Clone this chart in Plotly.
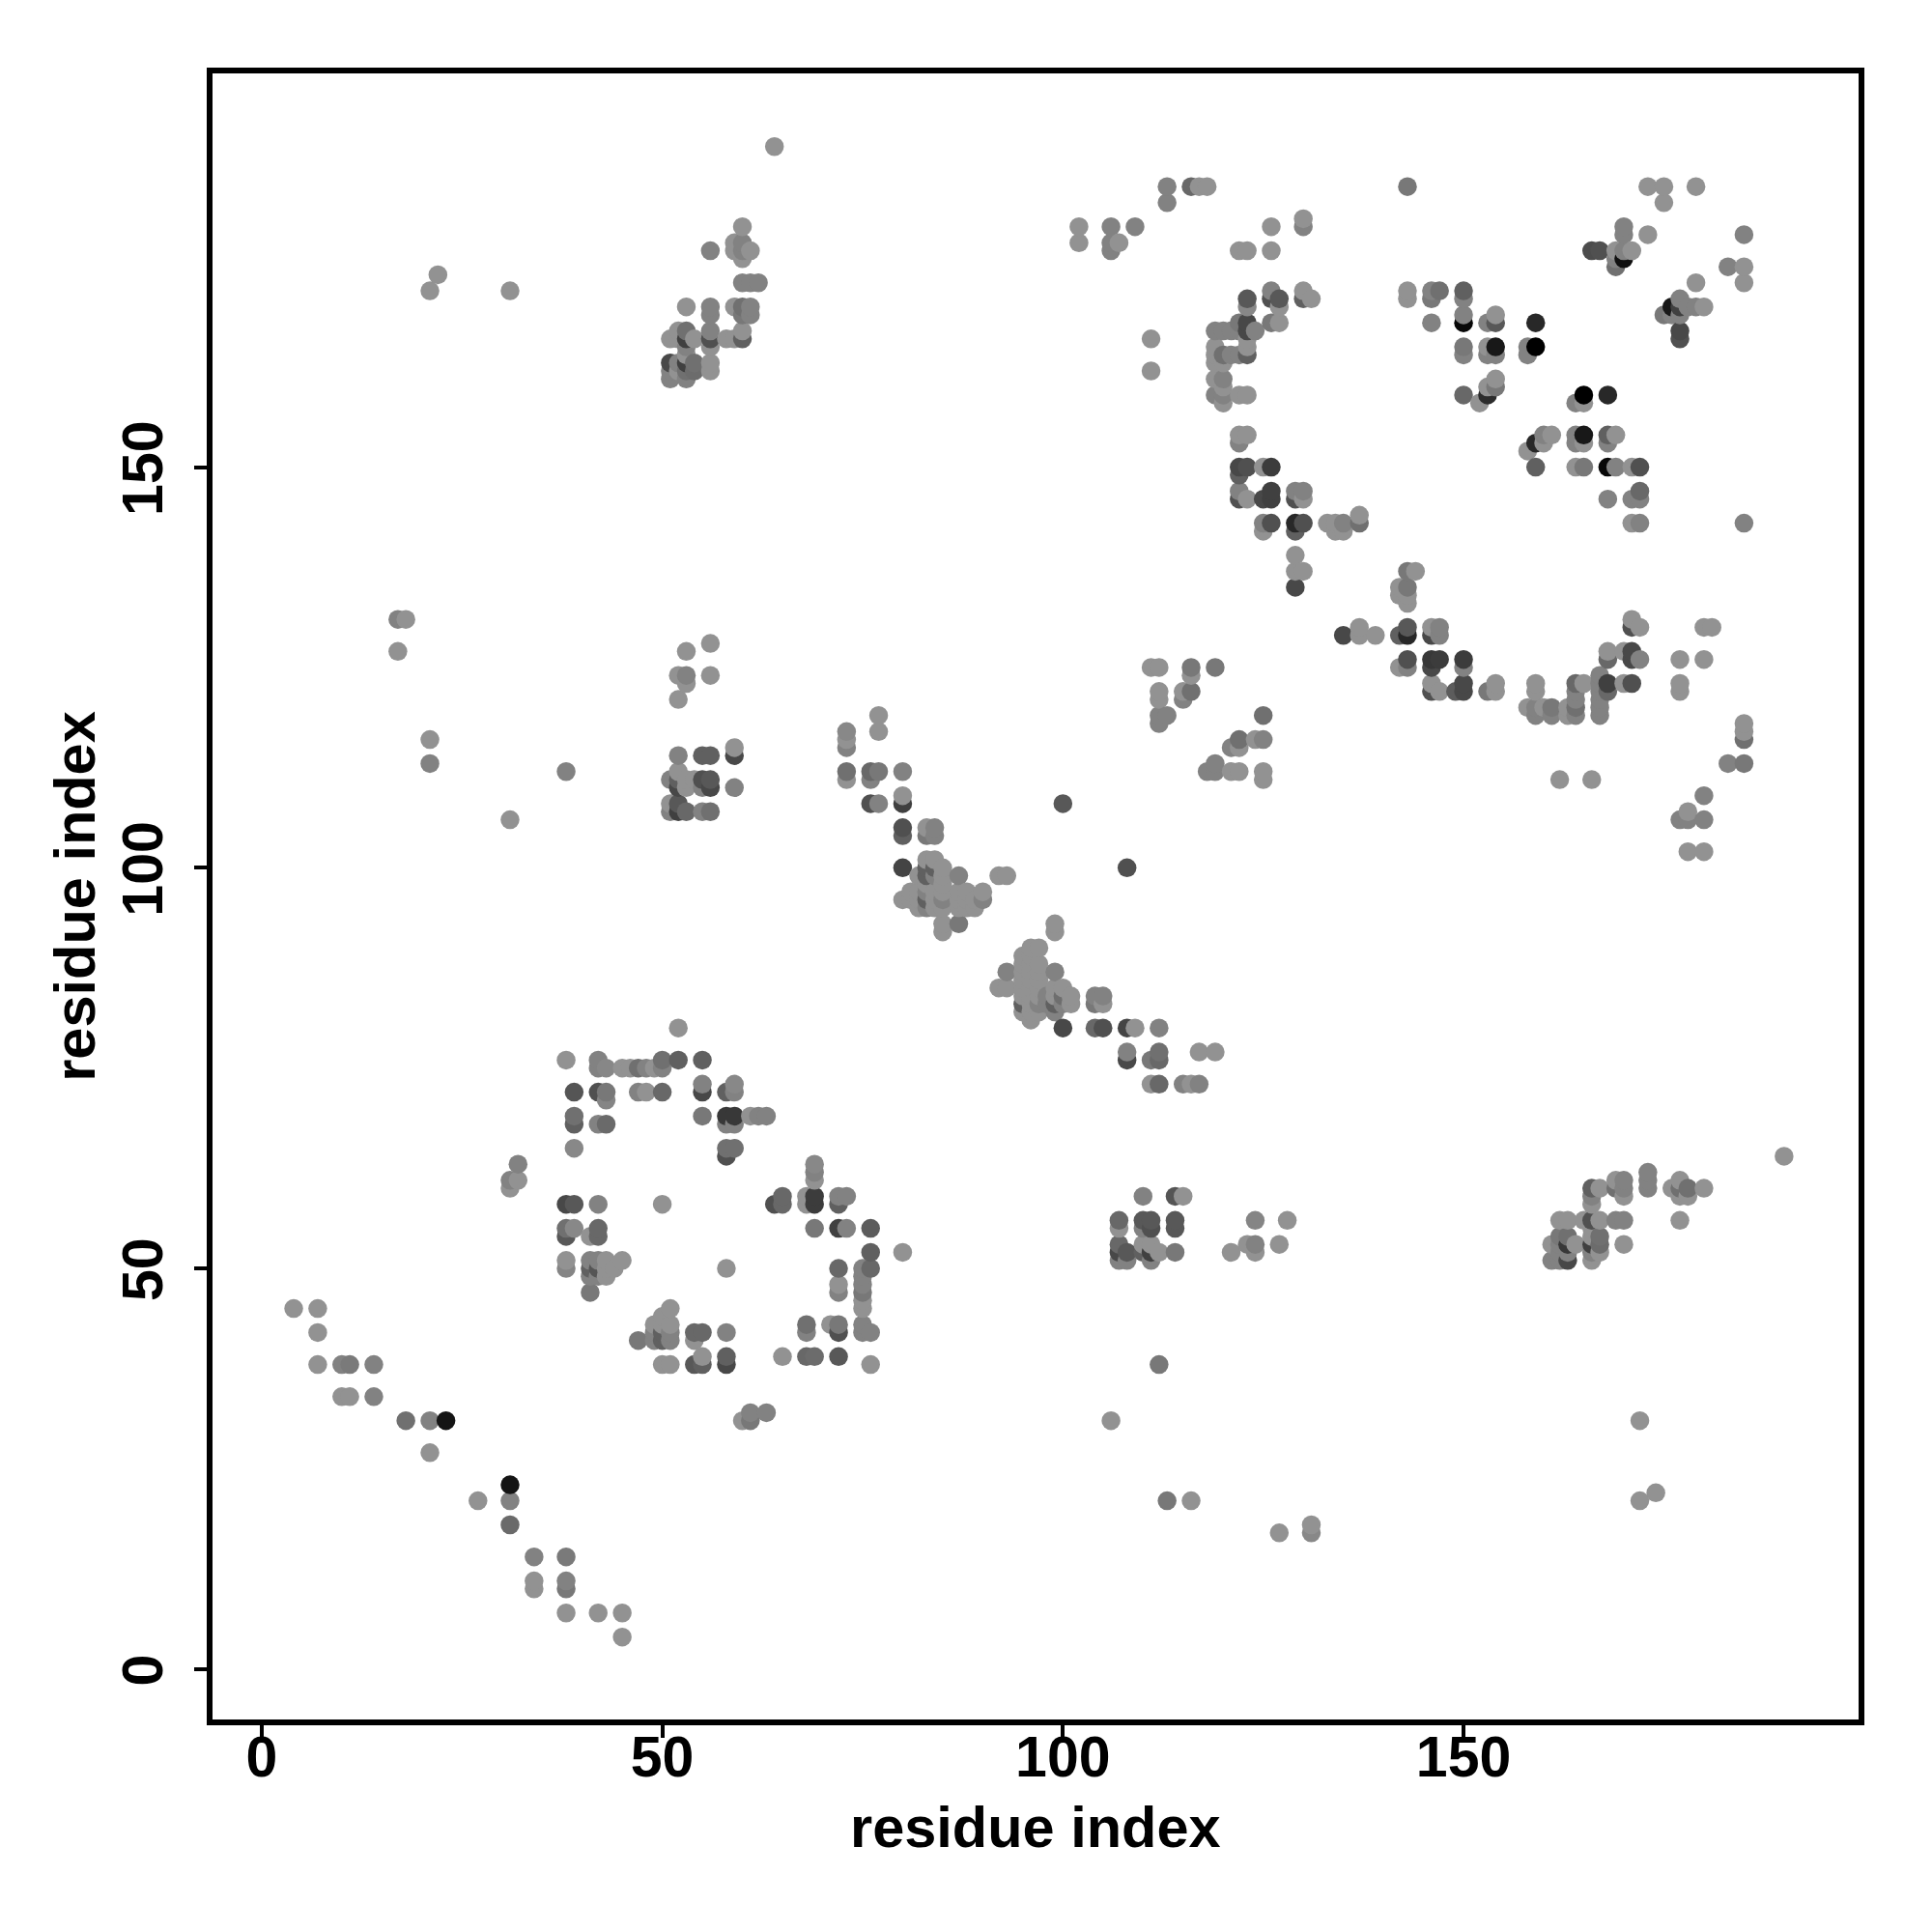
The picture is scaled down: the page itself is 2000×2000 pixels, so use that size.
import plotly.graph_objects as go

L = 146
M = 130

# (residue_i, residue_j, grey score), one list per region
lower_diagonal = [(4,45,L),(7,45,L),(7,42,L),(7,38,L),(10,38,M),(11,38,122),(14,38,M),(10,34,L),(11,34,L),(14,34,M),
 (18,31,112),(21,31,M),(23,31,20),(21,27,L),(31,23,20),(27,21,L),(31,21,M),(31,18,106),(34,14,M),(38,14,122),
 (34,11,L),(34,10,L),(38,11,M),(38,10,120),(38,7,L),(42,7,L),(45,7,L),(45,4,L),(32,63,M),(31,61,M),(32,61,L),(31,60,L)]

ring_low = [(52,80,L),(38,76,L),(42,76,M),(42,75,M),(43,75,135),(45,75,L),(46,75,L),(47,75,112),(48,75,M),(49,75,L),(50,75,M),(50,76,112),(52,76,96),(55,76,96),
 (39,72,85),(42,72,80),(43,72,120),(43,71,133),(47,72,M),(48,72,L),(50,72,104),(55,72,72),(55,73,M),(58,72,96),(59,72,M),(59,73,136),
 (39,69,112),(39,68,96),(42,68,M),(43,68,106),(55,69,120),(58,69,56),(59,69,56),(58,68,M),(59,68,M),(61,69,L),(62,69,M),(63,69,M),
 (39,65,136),(58,65,112),(59,65,112),(58,64,80),(69,63,136),(69,62,M),(69,61,L),(65,59,104),(65,58,104),(64,58,80),(68,59,L),(68,58,L),(69,59,60),(69,58,60),
 (72,59,M),(73,59,M),(72,58,96),(38,58,72),(39,58,88),(42,58,M),(50,58,L),(38,55,112),(39,55,136),(38,54,88),(41,54,L),(42,55,104),(42,54,104),
 (69,55,120),(72,55,64),(73,55,M),(76,55,92),(76,52,96),(80,52,L),(38,51,L),(38,50,133),(41,51,M),(42,51,M),(43,51,L),(45,51,L),(41,50,96),(42,50,85),(43,50,L),(44,50,L),
 (41,49,M),(42,49,M),(43,49,L),(41,47,120),(58,50,L),(72,50,104),(72,48,L),(72,47,M),(75,50,M),(76,50,104),(75,49,M),(75,48,M),(75,47,120),(75,46,L),(75,45,L),
 (51,45,L),(50,44,L),(49,43,L),(50,43,L),(51,43,L),(49,42,M),(50,42,96),(51,42,M),(54,42,104),(55,42,104),(58,42,M),(68,43,112),(68,42,M),(71,43,L),(72,43,120),(72,42,80),
 (75,43,M),(75,42,M),(76,42,M),(47,41,120),(49,41,M),(50,41,96),(51,41,M),(54,41,L),(55,39,L),(58,39,96),(65,39,L),(68,39,104),(69,39,108),(72,39,88),
 (50,38,L),(51,38,L),(54,38,88),(55,38,96),(58,38,72),(76,38,L),(61,32,M),(63,32,M),(60,31,L),(61,31,120)]

central_diagonal = [(100,108,88),(108,100,80),(77,119,L),(77,117,L),(73,117,136),(73,116,L),(73,115,M),(73,112,112),(73,111,L),(76,112,104),(76,111,M),(77,112,120),(80,112,M),
 (76,108,80),(77,108,M),(80,109,L),(80,108,64),(80,105,80),(80,104,96),(83,105,L),(84,105,M),(83,104,120),(84,104,M),(80,100,68),(83,101,L),(84,101,L),(83,100,96),(84,100,96),(85,100,L),
 (82,99,L),(83,99,96),(84,99,M),(85,99,L),(87,99,M),(92,99,L),(93,99,L),(83,98,L),(85,98,L),(81,97,L),(82,97,L),(83,97,M),(84,97,L),(85,97,L),(87,97,L),(88,97,L),(90,97,L),
 (80,96,L),(81,96,L),(82,96,L),(83,96,96),(84,96,L),(85,96,M),(87,96,L),(88,96,L),(89,96,L),(90,96,M),(82,95,L),(83,95,M),(84,95,L),(85,95,L),(87,95,L),(88,95,L),(89,95,L),
 (85,93,L),(87,93,120),(85,92,L),(99,93,L),(99,92,L),(97,90,L),(96,90,L),(95,89,L),(96,89,L),(95,88,L),(96,88,L),(97,88,L),(93,87,M),(95,87,L),(96,87,L),(97,87,L),(99,87,M),
 (95,86,L),(96,86,L),(97,86,L),(92,85,L),(93,85,L),(95,85,L),(96,85,L),(97,85,L),(99,85,L),(100,85,L),(95,84,L),(96,84,L),(97,84,L),(98,84,M),(99,84,L),(100,84,110),(101,84,L),(104,84,M),(105,84,M),
 (95,83,96),(96,83,L),(97,83,M),(98,83,M),(99,83,96),(100,83,M),(101,83,L),(104,83,120),(105,83,L),(95,82,L),(96,82,L),(97,82,L),(99,82,M),(96,81,L),
 (100,80,72),(104,80,104),(105,80,80),(108,80,68),(109,80,L),(112,80,M),(108,77,M),(112,77,112),(117,77,L),(119,77,L),(108,76,72),(111,76,120),(112,76,104),(111,73,L),(112,73,104),(115,73,M),(116,73,L),(117,73,M)]

block_bottom_right = [(110,59,M),(114,59,85),(115,59,L),(107,56,104),(110,56,88),(111,56,88),(114,56,88),(107,55,L),(110,55,M),(111,55,80),(114,55,88),(107,53,104),(110,53,L),(111,53,L),
 (107,52,72),(108,52,88),(110,52,96),(111,52,64),(112,52,L),(114,52,120),(107,51,M),(108,51,M),(111,51,M),(124,56,133),(128,56,L),(121,52,L),(123,53,L),(124,53,M),(124,52,L),(127,53,L),
 (112,38,120),(106,31,L),(172,31,L),(113,21,120),(116,21,L),(172,21,L),(174,22,L),(127,17,L),(131,18,L),(131,17,136),(190,64,L),
 (173,62,M),(173,61,M),(173,60,M),(169,61,L),(170,61,M),(169,60,112),(170,60,M),(170,59,L),(166,60,96),(167,60,L),(166,59,M),(166,58,L),(176,60,L),(177,61,L),(177,60,112),(178,60,112),(177,59,L),(178,59,L),(180,60,L),(177,56,L),
 (162,56,L),(163,56,L),(165,56,L),(166,56,80),(167,56,L),(169,56,M),(170,56,M),(166,55,L),(162,54,120),(163,54,112),(166,54,L),(167,54,112),(161,53,L),(162,53,M),(163,53,56),(164,53,L),(166,53,64),(167,53,108),(170,53,L),
 (162,52,M),(163,52,M),(166,52,M),(167,52,L),(161,51,M),(162,51,M),(163,51,72),(166,51,L)]

ring_high_left = [(123,171,88),(123,170,136),(126,172,M),(126,171,80),(127,171,88),(127,170,L),(130,172,L),(130,171,96),(131,171,L),(122,168,120),(123,168,72),(119,167,M),(120,167,M),(121,167,M),(122,167,M),(123,167,72),(124,167,M),
 (126,168,120),(127,168,L),(123,166,L),(123,165,L),(123,164,96),(119,164,L),(120,164,112),(121,164,M),(122,164,M),(119,165,L),(119,163,L),(120,163,L),(119,161,L),(120,161,M),(120,160,L),(119,159,M),(120,159,M),(122,159,L),(123,159,L),(120,158,L),
 (122,154,L),(123,154,L),(122,153,M),(122,150,72),(123,150,80),(125,150,L),(126,150,60),(122,149,96),(122,147,M),(126,147,64),(129,147,M),(130,147,M),(122,146,80),(123,146,L),(125,146,72),(126,146,64),(129,146,80),(130,146,L),
 (125,143,M),(126,143,80),(129,143,40),(130,143,80),(133,143,L),(134,143,L),(135,143,M),(137,143,112),(125,142,L),(129,142,96),(134,142,L),(135,142,L),(137,144,L),(129,139,L),(129,137,L),(130,137,L),(129,135,72)]

ring_high_low = [(143,137,120),(144,137,L),(142,135,L),(143,135,120),(142,134,L),(143,134,L),(143,133,L),(135,129,72),(137,130,L),(137,129,L),(139,129,L),(142,129,96),(143,130,88),(143,129,40),(146,130,L),(147,130,M),(146,129,72),(147,129,M),
 (143,126,80),(146,126,56),(147,126,60),(150,126,60),(142,125,L),(143,125,M),(146,125,72),(150,125,M),(146,123,L),(150,123,72),(154,123,L),(146,122,80),(147,122,L),(149,122,92),(150,122,72),(153,122,120),(154,122,L),(159,123,L),(159,122,L),
 (158,120,L),(159,120,M),(160,120,L),(161,120,120),(163,120,L),(164,120,112),(167,120,M),(159,119,M),(161,119,M),(163,119,L),(164,119,M),(167,119,M),(164,123,104),(165,123,L),(167,123,M),(168,123,64),(170,123,L),(171,123,80),(167,124,M),
 (164,122,M),(167,122,M),(168,122,104),(164,121,M),(167,121,M),(168,127,L),(170,127,L),(171,127,72),(168,126,104),(171,126,72),(172,126,M),(171,131,L),(171,130,80),(172,130,L),(177,126,L),(180,126,L),(180,130,L),(181,130,L),(177,123,L),(177,122,L),
 (185,118,L),(185,117,L),(185,116,112),(183,113,M),(185,113,120),(180,109,M),(178,107,L),(177,106,M),(178,106,M),(180,106,M),(178,102,L),(180,102,L),(162,111,L),(166,111,L)]

mid_islands = [(111,125,L),(112,125,L),(116,125,120),(116,124,L),(119,125,120),(112,122,L),(112,121,L),(115,122,L),(116,122,112),(115,121,M),(112,119,M),(113,119,M),(112,118,M),(125,119,112),(122,116,112),(124,116,L),(125,116,M),(121,115,M),(122,115,L),
 (119,113,M),(118,112,M),(119,112,M),(121,112,L),(122,112,L),(125,112,L),(125,111,L),
 (56,128,L),(53,127,L),(52,124,L),(53,124,M),(56,124,L),(53,123,L),(52,121,L),(52,114,M),(55,114,96),(56,114,96),(59,115,L),(59,114,72),(51,111,M),(52,112,L),(52,111,96),(52,110,72),(53,111,L),(54,111,L),(55,111,80),(56,111,88),
 (53,110,L),(55,110,M),(56,110,72),(59,110,M),(51,108,L),(51,107,M),(52,108,88),(52,107,64),(53,107,104),(55,107,M),(56,107,112)]

top_band = [(113,185,M),(116,185,104),(117,185,L),(118,185,L),(113,183,M),(102,180,L),(102,178,L),(106,180,M),(109,180,M),(106,178,M),(107,178,L),(106,177,M),(126,180,L),(130,181,L),(130,180,M),(122,177,L),(123,177,L),(126,177,L),(111,166,L),(111,162,L),
 (60,180,L),(59,178,L),(60,178,M),(59,177,L),(60,177,M),(61,177,L),(60,176,L),(56,177,M),(60,173,M),(61,173,M),(62,173,M),(53,170,L),(56,170,M),(56,169,M),(59,170,L),(60,170,112),(61,170,M),(60,169,120),(61,169,M),
 (52,167,L),(53,167,112),(51,166,L),(52,166,L),(53,166,64),(54,166,L),(56,167,M),(56,166,80),(58,166,L),(59,166,L),(60,167,L),(60,166,96),(53,165,M),(56,165,L),(53,164,L),
 (51,163,72),(52,163,M),(53,163,64),(54,163,112),(56,163,L),(51,162,M),(52,162,L),(53,162,112),(54,162,108),(56,162,L),(51,161,M),(53,161,M),
 (64,190,L),(21,172,L),(22,174,L),(31,172,L),(17,131,M),(18,131,L),(17,127,L),(21,116,L),(21,113,M),(38,112,M),(31,106,L)]

top_right = [(143,185,120),(173,185,L),(175,185,L),(179,185,L),(175,183,L),(170,180,M),(173,179,L),(185,179,M),(170,179,M),(166,177,76),(167,177,80),(169,177,L),(170,177,M),(171,177,L),(169,176,M),(170,176,16),(169,175,112),
 (183,175,M),(185,175,L),(185,173,L),(179,173,L),(143,172,L),(143,171,L),(146,172,M),(147,172,112),(146,171,120),(150,172,96),(150,171,M),(146,168,M),(150,169,M),(150,168,8),(153,168,M),(154,169,L),(154,168,88),(159,168,40),
 (150,165,120),(150,164,M),(153,165,L),(154,165,24),(153,164,M),(154,164,M),(158,165,M),(159,165,0),(158,164,M),(150,159,104),(154,161,L),(154,160,120),(153,160,L),(153,159,44),(152,158,L),
 (177,171,M),(176,170,24),(177,170,64),(178,170,M),(179,170,M),(180,170,L),(175,169,120),(176,169,M),(177,169,M),(177,167,72),(177,166,80),
 (165,159,0),(168,159,40),(164,158,M),(165,158,L),(160,154,M),(161,154,L),(164,154,M),(165,154,24),(168,154,96),(169,154,L),(159,153,40),(160,153,L),(164,153,M),(165,153,L),(168,153,M),(158,152,L),
 (159,150,96),(164,150,L),(165,150,120),(168,150,8),(169,150,M),(171,150,L),(172,150,80),(172,147,104),(168,146,M),(171,146,M),(172,146,M),(171,143,L),(172,143,M),(185,143,M)]

tick_values = [0, 50, 100, 150]
axis_label = "residue index"

contacts = sorted(lower_diagonal + ring_low + central_diagonal + block_bottom_right + ring_high_left
                  + ring_high_low + mid_islands + top_band + top_right, key=lambda p: (p[0], p[1]))

fig = go.Figure(go.Scatter(
    x=[p[0] for p in contacts],
    y=[p[1] for p in contacts],
    mode="markers",
    marker=dict(size=19.5, color=[p[2] for p in contacts], cmin=0, cmax=255,
                colorscale=[[0, "#000000"], [1, "#ffffff"]], showscale=False, line=dict(width=0)),
    hoverinfo="skip",
))

tick_font = dict(family="Liberation Sans", size=59, color="#000000", weight="bold")
title_font = dict(family="Liberation Sans", size=59.5, color="#000000", weight="bold")
axis_common = dict(
    tickvals=tick_values, ticks="outside", ticklen=13, tickwidth=4, tickcolor="#000000",
    showgrid=False, zeroline=False, showline=True, linewidth=6, linecolor="#000000", mirror=True,
    tickfont=tick_font,
)
fig.update_layout(
    width=2000, height=2000, margin=dict(l=211.5, r=83.5, t=67.5, b=227.5, autoexpand=False),
    paper_bgcolor="#ffffff", plot_bgcolor="#ffffff", showlegend=False,
    xaxis=dict(range=[-6.13, 199.3], ticklabelstandoff=-31, **axis_common),
    yaxis=dict(range=[-6.29, 199.13], tickangle=-90, ticklabelstandoff=9, ticklabelshift=10,
               title=dict(text=axis_label, font=title_font, standoff=0), **axis_common),
    annotations=[dict(text=axis_label, font=title_font, xref="paper", yref="paper",
                      x=0.5, y=-0.0654, xanchor="center", yanchor="middle", showarrow=False)],
)
fig.write_html("out.html")
